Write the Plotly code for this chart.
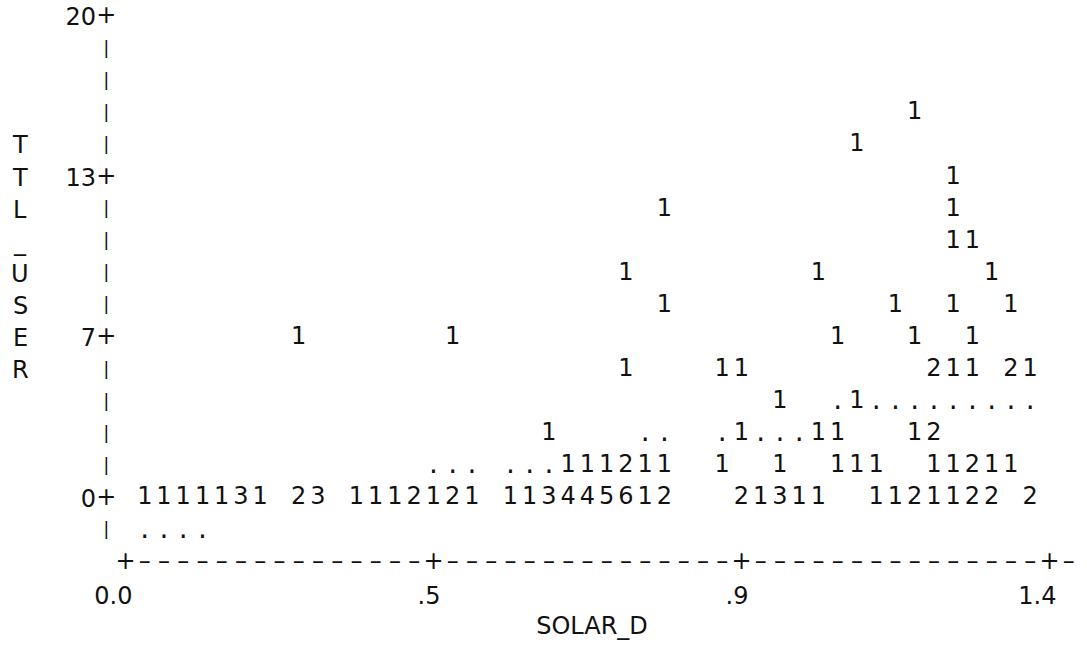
import plotly.graph_objects as go

# ---------------- data ----------------
# TTL_USER level of each printed row (printer rows are 4/3 units apart)
TTL_USER_LEVELS = [16.0, 14.667, 13.333, 12.0, 10.667, 9.333, 8.0, 6.667,
                   5.333, 4.0, 2.667, 1.333, 0.0, -1.333]

# SOLAR_D position of every printed symbol on that row
SOLAR_D_BY_LEVEL = [
    [1.1958],
    [1.1083],
    [1.2542],
    [0.8167, 1.2542],
    [1.2542, 1.2833],
    [0.7583, 1.0500, 1.3125],
    [0.8167, 1.1667, 1.2542, 1.3417],
    [0.2625, 0.4958, 1.0792, 1.1958, 1.2833],
    [0.7583, 0.9042, 0.9333, 1.2250, 1.2542, 1.2833, 1.3417, 1.3708],
    [0.9917, 1.0792, 1.1083, 1.1375, 1.1667, 1.1958, 1.2250, 1.2542,
     1.2833, 1.3125, 1.3417, 1.3708],
    [0.6417, 0.7875, 0.8167, 0.9042, 0.9333, 0.9625, 0.9917, 1.0208,
     1.0500, 1.0792, 1.1958, 1.2250],
    [0.4667, 0.4958, 0.5250, 0.5833, 0.6125, 0.6417, 0.6708, 0.7000,
     0.7292, 0.7583, 0.7875, 0.8167, 0.9042, 0.9917, 1.0792, 1.1083,
     1.1375, 1.2250, 1.2542, 1.2833, 1.3125, 1.3417],
    [0.0292, 0.0583, 0.0875, 0.1167, 0.1458, 0.1750, 0.2042, 0.2625,
     0.2917, 0.3500, 0.3792, 0.4083, 0.4375, 0.4667, 0.4958, 0.5250,
     0.5833, 0.6125, 0.6417, 0.6708, 0.7000, 0.7292, 0.7583, 0.7875,
     0.8167, 0.9333, 0.9625, 0.9917, 1.0208, 1.0500, 1.1375, 1.1667,
     1.1958, 1.2250, 1.2542, 1.2833, 1.3125, 1.3708],
    [0.0292, 0.0583, 0.0875, 0.1167],
]

# printed symbol (number of observations, or '.') for each position above
SYMBOLS_BY_LEVEL = [
    "1",
    "1",
    "1",
    "11",
    "11",
    "111",
    "1111",
    "11111",
    "11121121",
    "1" "." "1" ".........",
    "1" "..." "1" "..." "11" "12",
    "......" "111211" "1" "1" "111" "11211",
    "1111131" "23" "1112121" "113445612" "21311" "1121122" "2",
    "....",
]

X_TICK_VALUES = [0.0, 0.4667, 0.9333, 1.4]
X_TICK_LABELS = ["0.0", ".5", ".9", "1.4"]
Y_TICK_VALUES = [20.0, 13.333, 6.667, 0.0]
Y_TICK_LABELS = ["20", "13", "7", "0"]
X_TITLE = "SOLAR_D"
Y_TITLE = "TTL_USER"

# ---------------- page geometry (printer grid) ----------------
W, H = 1087, 649
PLOT_L, PLOT_B = 97, 580          # plot area left edge / bottom edge (px)
COL0_PX, COL_PX = 125.5, 19.25    # x pixel of SOLAR_D = 0 and printer column pitch
ROW0_PX, ROW_PX = 17.0, 32.1      # y pixel of TTL_USER = 20 and printer row pitch
X_STEP = (X_TICK_VALUES[1] - X_TICK_VALUES[0]) / 16   # SOLAR_D per printer column
Y_STEP = (Y_TICK_VALUES[0] - Y_TICK_VALUES[1]) / 5    # TTL_USER per printer row
Y_TOP = Y_TICK_VALUES[0]


def x_at_px(px):
    return (px - COL0_PX) / COL_PX * X_STEP


def y_at_px(py):
    return Y_TOP - (py - ROW0_PX) / ROW_PX * Y_STEP


FONT = "DejaVu Sans"
FS = 24
INK = "#111111"

xs, ys, syms = [], [], []
for lvl, xv, sv in zip(TTL_USER_LEVELS, SOLAR_D_BY_LEVEL, SYMBOLS_BY_LEVEL):
    for x, s in zip(xv, sv):
        xs.append(x)
        ys.append(lvl)
        syms.append(s)
sizes = [28 if s == "." else FS for s in syms]

fig = go.Figure()

# plotted observations
fig.add_trace(go.Scatter(
    x=xs, y=ys, text=syms, mode="text", textposition="middle center",
    textfont=dict(family=FONT, size=sizes, color=INK),
    cliponaxis=False, hoverinfo="skip", showlegend=False))

# vertical printer axis: '+' at labelled rows, '|' elsewhere
n_rows = 17
ax_y = [Y_TOP - k * Y_STEP for k in range(n_rows)]
ax_t = ["+" if k % 5 == 0 and k <= 15 else "|" for k in range(n_rows)]
ax_s = [FS if t == "+" else 18 for t in ax_t]
fig.add_trace(go.Scatter(
    x=[X_TICK_VALUES[0] - X_STEP] * n_rows, y=ax_y, text=ax_t,
    mode="text", textposition="middle center",
    textfont=dict(family=FONT, size=ax_s, color=INK),
    cliponaxis=False, hoverinfo="skip", showlegend=False))

# horizontal printer axis: '+' at tick columns, dashes elsewhere
n_cols = 50
hx = [X_TICK_VALUES[0] + c * X_STEP for c in range(n_cols)]
ht = ["+" if c % 16 == 0 else "\u2013" for c in range(n_cols)]
fig.add_trace(go.Scatter(
    x=hx, y=[Y_TOP - 17 * Y_STEP] * n_cols, text=ht,
    mode="text", textposition="middle center",
    textfont=dict(family=FONT, size=FS, color=INK),
    cliponaxis=False, hoverinfo="skip", showlegend=False))

# vertical, upright y-axis title
annotations = []
for i, ch in enumerate(Y_TITLE):
    annotations.append(dict(
        text=ch, x=(20 - PLOT_L) / (W - PLOT_L), xref="paper",
        y=Y_TOP - (4 + i) * Y_STEP, yref="y",
        showarrow=False, xanchor="center", yanchor="middle",
        font=dict(family=FONT, size=FS, color=INK)))

fig.update_layout(
    width=W, height=H,
    margin=dict(l=PLOT_L, r=0, t=0, b=H - PLOT_B, pad=0),
    paper_bgcolor="white", plot_bgcolor="white",
    font=dict(family=FONT, size=FS, color=INK),
    annotations=annotations,
    xaxis=dict(
        range=[x_at_px(PLOT_L), x_at_px(W)], automargin=False,
        showgrid=False, zeroline=False, showline=False, ticks="",
        tickvals=X_TICK_VALUES, ticktext=X_TICK_LABELS,
        ticklabelposition="outside left", ticklabelshift=7,
        ticklabelstandoff=-1,
        tickfont=dict(family=FONT, size=FS, color=INK),
        title=dict(text=X_TITLE, standoff=8,
                   font=dict(family=FONT, size=FS, color=INK)),
    ),
    yaxis=dict(
        range=[y_at_px(PLOT_B), y_at_px(0)], automargin=False,
        showgrid=False, zeroline=False, showline=False, ticks="",
        tickvals=Y_TICK_VALUES, ticktext=Y_TICK_LABELS,
        ticklabelstandoff=0,
        tickfont=dict(family=FONT, size=FS, color=INK),
    ),
)

fig.write_html("out.html")
